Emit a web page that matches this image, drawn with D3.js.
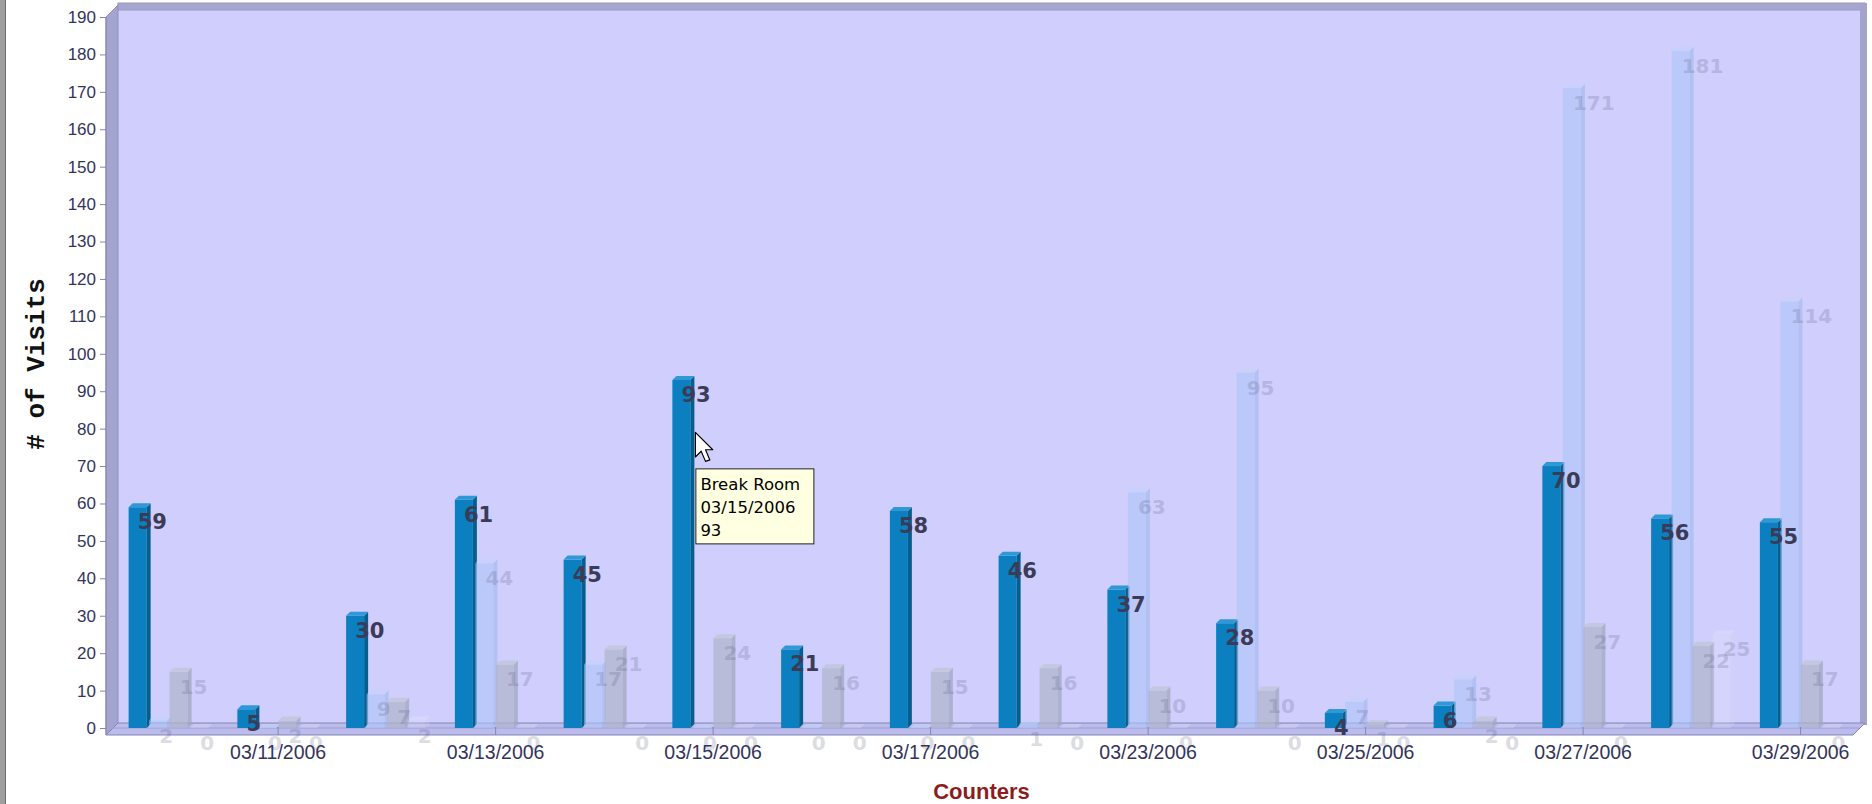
<!DOCTYPE html>
<html>
<head>
<meta charset="utf-8">
<script src="https://cdn.jsdelivr.net/npm/d3@7"></script>
<style>
  html, body { margin: 0; padding: 0; background: #fff; }
  svg { display: block; }
</style>
</head>
<body>
<div id="chart"></div>
<script>
// Data
const dates = [
  "03/10/2006", "03/11/2006", "03/12/2006", "03/13/2006",
  "03/14/2006", "03/15/2006", "03/16/2006", "03/17/2006",
  "03/22/2006", "03/23/2006", "03/24/2006", "03/25/2006",
  "03/26/2006", "03/27/2006", "03/28/2006", "03/29/2006",
];
const seriesNames = ["Break Room", "Counter 2", "Counter 3", "Counter 4"];
const breakRoom = [59, 5, 30, 61, 45, 93, 21, 58, 46, 37, 28, 4, 6, 70, 56, 55];
const counter2 = [2, 0, 9, 44, 17, 0, 0, 0, 1, 63, 95, 7, 13, 171, 181, 114];
const counter3 = [15, 2, 7, 17, 21, 24, 16, 15, 16, 10, 10, 1, 2, 27, 22, 17];
const counter4 = [0, 0, 2, 0, 0, 0, 0, 0, 0, 0, 0, 0, 0, 0, 25, 0];
const yTickValues = [0, 10, 20, 30, 40, 50, 60, 70, 80, 90, 100, 110, 120, 130, 140, 150, 160, 170, 180, 190];

(function () {
  const seriesValues = [breakRoom, counter2, counter3, counter4];
  const rows = [];
  dates.forEach((date, i) => {
    seriesNames.forEach((name, s) => {
      rows.push({ date, name, s, value: seriesValues[s][i] });
    });
  });

  // Dimensions
  const width = 1872;
  const height = 804;
  const depth = 12;
  const frontLeft = 106;
  const frontRight = 1853;
  const frontBase = 735;
  const wallTop = 5;
  const barDepth = 4;

  // Style
  const wallColor = "#cfcefc";
  const edgeColor = "#a6a6d0";
  const lineColor = "#8585b3";
  const textColor = "#34345a";
  const barStyles = [
    { front: "#0b7fbf", side: "#045f8f", top: "#2f98d6", opacity: 1 },
    { front: "#aec6fa", side: "#a0b8ee", top: "#c2d4fc", opacity: 0.6 },
    { front: "#b0b6cc", side: "#a0a7bd", top: "#c0c5d6", opacity: 0.72 },
    { front: "#e6e6ff", side: "#d8d8f6", top: "#f0f0ff", opacity: 0.25 },
  ];

  // Scales
  const x = d3.scaleBand().domain(dates).range([115, 1855]);
  const xSeries = d3.scaleBand().domain(seriesNames).range([-41, 41]);
  const y = d3.scaleLinear().domain([0, 190]).range([728, 17]);
  const barCenter = (d) =>
    x(d.date) + x.bandwidth() / 2 + xSeries(d.name) + xSeries.bandwidth() / 2;

  // Containers
  const svg = d3
    .select("#chart")
    .append("svg")
    .attr("width", width)
    .attr("height", height)
    .attr("viewBox", [0, 0, width, height]);

  // Window edge
  svg.append("rect").attr("x", 0).attr("y", 0).attr("width", 5).attr("height", height).attr("fill", "#9e9e9e");
  svg.append("line").attr("x1", 5.5).attr("x2", 5.5).attr("y1", 0).attr("y2", height).attr("stroke", "#6c6c6c");

  // Back wall
  const backLeft = frontLeft + depth;
  const backRight = frontRight + depth;
  const backBase = frontBase - depth;
  svg
    .append("rect")
    .attr("x", backLeft)
    .attr("y", wallTop)
    .attr("width", backRight - backLeft)
    .attr("height", backBase - wallTop)
    .attr("fill", wallColor);
  svg
    .append("rect")
    .attr("x", backLeft)
    .attr("y", wallTop - 2)
    .attr("width", backRight - backLeft)
    .attr("height", 7)
    .attr("fill", edgeColor)
    .attr("stroke", "#9a9ac2")
    .attr("stroke-width", 1);
  svg
    .append("rect")
    .attr("x", backRight - 5)
    .attr("y", wallTop - 2)
    .attr("width", 7)
    .attr("height", backBase - wallTop + 4)
    .attr("fill", "#a3a3cc");

  // Left wall
  svg
    .append("path")
    .attr(
      "d",
      `M${frontLeft},${y(190)}L${backLeft},${wallTop}L${backLeft},${backBase}L${frontLeft},${frontBase}Z`
    )
    .attr("fill", "#a4a4d0")
    .attr("stroke", "#9090bc");

  // Floor
  svg
    .append("path")
    .attr(
      "d",
      `M${frontLeft},${frontBase}L${backLeft},${backBase}L${backRight},${backBase}L${frontRight},${frontBase}Z`
    )
    .attr("fill", "#bcbbee")
    .attr("stroke", lineColor);
  svg
    .append("line")
    .attr("x1", frontLeft + 6)
    .attr("x2", frontRight + 6)
    .attr("y1", y(0))
    .attr("y2", y(0))
    .attr("stroke", "#9f9fcc");

  // Bars
  const bars = svg
    .append("g")
    .selectAll("g")
    .data(rows)
    .join("g")
    .attr("opacity", (d) => barStyles[d.s].opacity);

  bars.each(function (d) {
    const g = d3.select(this);
    const c = barCenter(d);
    const x0 = c - 10;
    const x1 = c + 8;
    const yTop = y(d.value);
    const yBase = y(0);
    const st = barStyles[d.s];
    g.append("rect")
      .attr("x", x0)
      .attr("y", yTop)
      .attr("width", x1 - x0)
      .attr("height", yBase - yTop)
      .attr("fill", st.front);
    g.append("path")
      .attr(
        "d",
        `M${x1},${yTop}L${x1 + barDepth},${yTop - barDepth}L${x1 + barDepth},${yBase - barDepth}L${x1},${yBase}Z`
      )
      .attr("fill", st.side);
    g.append("path")
      .attr(
        "d",
        `M${x0},${yTop}L${x0 + barDepth},${yTop - barDepth}L${x1 + barDepth},${yTop - barDepth}L${x1},${yTop}Z`
      )
      .attr("fill", st.top);
  });

  // Value labels (faint series first, axis text drawn over them)
  svg
    .append("g")
    .selectAll("text")
    .data(rows.filter((d) => d.s > 0))
    .join("text")
    .attr("x", (d) => barCenter(d))
    .attr("y", (d) => y(d.value) + 22)
    .attr("fill", "#55557a")
    .attr("opacity", 0.2)
    .style("font-family", "'DejaVu Sans', Verdana, sans-serif")
    .style("font-weight", "bold")
    .style("font-size", "20px")
    .text((d) => d.value);

  // Y axis
  const yAxis = svg
    .append("g")
    .attr("transform", `translate(${frontLeft},0)`)
    .call(d3.axisLeft(y).tickValues(yTickValues).tickSize(6).tickPadding(4));
  yAxis.select(".domain").remove();
  yAxis.selectAll("line").attr("stroke", lineColor);
  yAxis
    .selectAll("text")
    .attr("fill", textColor)
    .style("font-family", "'Liberation Sans', Arial, sans-serif")
    .style("font-size", "17px");
  svg
    .append("line")
    .attr("x1", frontLeft)
    .attr("x2", frontLeft)
    .attr("y1", y(190))
    .attr("y2", frontBase)
    .attr("stroke", lineColor);

  // X axis
  const xAxis = svg
    .append("g")
    .attr("transform", `translate(0,${frontBase})`)
    .call(
      d3
        .axisBottom(x)
        .tickValues(dates.filter((d, i) => i % 2 === 1))
        .tickSizeInner(-8)
        .tickSizeOuter(0)
        .tickPadding(10)
    );
  xAxis.select(".domain").remove();
  xAxis.selectAll("line").attr("stroke", lineColor);
  xAxis
    .selectAll("text")
    .attr("fill", textColor)
    .style("font-family", "'Liberation Sans', Arial, sans-serif")
    .style("font-size", "19.5px");

  // Break Room labels
  svg
    .append("g")
    .selectAll("text")
    .data(rows.filter((d) => d.s === 0))
    .join("text")
    .attr("x", (d) => barCenter(d) - 1)
    .attr("y", (d) => y(d.value) + 22)
    .attr("fill", "#3b3b58")
    .style("font-family", "'DejaVu Sans', Verdana, sans-serif")
    .style("font-weight", "bold")
    .style("font-size", "21px")
    .text((d) => d.value);

  // Axis titles
  svg
    .append("text")
    .attr("transform", "translate(44,364) rotate(-90)")
    .attr("text-anchor", "middle")
    .attr("fill", "#111")
    .style("font-family", "'Liberation Mono', 'Courier New', monospace")
    .style("font-weight", "bold")
    .style("font-size", "26px")
    .text("# of Visits");

  svg
    .append("text")
    .attr("x", (frontLeft + frontRight) / 2 + 2)
    .attr("y", 799)
    .attr("text-anchor", "middle")
    .attr("fill", "#8c1d1d")
    .style("font-family", "'Liberation Sans', Arial, sans-serif")
    .style("font-weight", "bold")
    .style("font-size", "22px")
    .text("Counters");

  // Tooltip on the 03/15 Break Room bar
  const hovered = rows.find((d) => d.date === "03/15/2006" && d.s === 0);
  const tipX = barCenter(hovered) + 13;
  const tipY = y(79);
  const tipLines = [hovered.name, hovered.date, String(hovered.value)];

  svg
    .append("path")
    .attr("transform", `translate(${tipX},${tipY}) scale(1.45)`)
    .attr("d", "M0,0L0,17L4,13L7,20L10,19L7,12L12,12Z")
    .attr("fill", "#fff")
    .attr("stroke", "#000")
    .attr("stroke-width", 0.8)
    .attr("stroke-linejoin", "round");

  const tip = svg.append("g").attr("transform", `translate(${tipX},${tipY + 36})`);
  tip
    .append("rect")
    .attr("x", 0.5)
    .attr("y", 0.5)
    .attr("width", 118)
    .attr("height", 75)
    .attr("fill", "#ffffe1")
    .attr("stroke", "#222");
  tip
    .selectAll("text")
    .data(tipLines)
    .join("text")
    .attr("x", 5)
    .attr("y", (d, i) => 22 + i * 23)
    .attr("fill", "#000")
    .style("font-family", "'DejaVu Sans', Tahoma, sans-serif")
    .style("font-size", "16.5px")
    .text((d) => d);
})();
</script>
</body>
</html>
